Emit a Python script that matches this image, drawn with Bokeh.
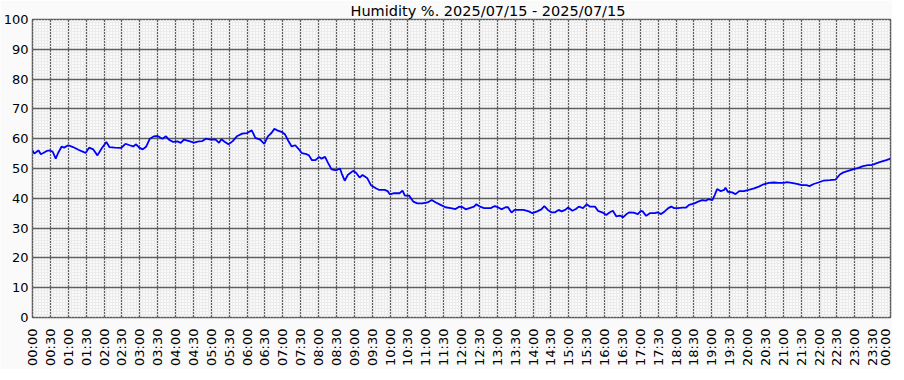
import math
from bokeh.plotting import figure
from bokeh.models import FixedTicker, Title
from bokeh.embed import file_html
from bokeh.resources import INLINE

# ---- data (minutes after midnight, humidity %) ----
hum_minutes = [
    0, 3, 7, 10, 14, 18, 24, 29, 34, 39, 43, 49, 53, 60, 68, 77, 85, 89, 95, 102,
    109, 116, 124, 129, 138, 149, 156, 163, 169, 174, 179, 185, 191, 197, 204, 210,
    218, 224, 229, 236, 243, 249, 254, 263, 271, 279, 285, 291, 299, 307, 313, 317,
    323, 329, 336, 343, 352, 360, 368, 374, 382, 389, 395, 401, 406, 413, 419, 424,
    429, 435, 441, 446, 452, 460, 464, 469, 475, 481, 485, 491, 496, 502, 510, 516,
    519, 524, 529, 538, 543, 549, 554, 562, 568, 577, 582, 591, 596, 600, 607, 616,
    621, 625, 632, 639, 646, 654, 663, 670, 677, 685, 693, 702, 710,
    716, 722, 727, 736, 741, 745, 751, 758, 769, 776, 782, 787, 794, 798, 804, 809,
    816, 824, 833, 839, 847, 854, 859, 865, 871, 877, 883, 888, 894, 899, 906, 912,
    917, 924, 930, 936, 944, 949, 956, 963, 969, 974, 980, 986, 991, 997, 1002, 1009,
    1016, 1021, 1024, 1030, 1036, 1044, 1049, 1055, 1061, 1067, 1072, 1077, 1083,
    1091, 1097, 1102, 1111, 1117, 1124, 1130, 1134, 1141, 1145, 1149, 1155, 1161,
    1163, 1167, 1174, 1180, 1186, 1194, 1202, 1211, 1219, 1227, 1236, 1244, 1252,
    1261, 1266, 1274, 1283, 1291, 1299, 1304, 1311, 1319, 1327, 1338, 1348, 1355,
    1361, 1369, 1377, 1386, 1394, 1402, 1408, 1416, 1423, 1433, 1440,
]
hum_values = [
    56.1, 55.0, 55.6, 56.1, 54.8, 55.2, 55.9, 56.1, 55.6, 53.3, 55.2, 57.4, 57.0, 57.8, 57.2, 56.3, 55.6, 55.2, 57.0, 56.4,
    54.4, 56.7, 58.9, 57.2, 57.0, 56.9, 58.3, 57.8, 57.4, 58.1, 57.0, 56.4, 57.4, 60.0, 60.8, 60.9,
    60.0, 60.8, 59.7, 58.9, 59.1, 58.6, 59.7, 59.2, 58.7, 59.1, 59.2, 60.0, 59.7, 59.8, 58.6, 59.8,
    58.9, 58.1, 59.2, 60.8, 61.7, 61.9, 62.8, 60.3, 59.7, 58.3, 60.8, 61.9, 63.3, 62.6, 62.2, 61.4,
    59.4, 57.4, 57.8, 56.7, 55.2, 54.8, 54.4, 52.8, 52.8, 53.9, 53.3, 53.9, 51.9, 49.7, 49.4, 50.0,
    48.3, 45.9, 47.8, 49.2, 48.6, 47.0, 47.8, 46.7, 44.4, 43.3, 42.8, 42.8, 42.4, 41.3, 41.7, 41.7,
    42.6, 40.9, 40.9, 38.9, 38.3, 38.3, 38.6, 39.4, 38.6, 37.8, 37.0, 36.7, 36.4,
    37.2, 37.0, 36.3, 36.9, 37.2, 38.0, 37.2, 36.7, 36.7, 37.4, 36.9, 36.3, 37.0, 37.0, 35.2, 36.1,
    36.1, 36.1, 35.6, 35.0, 35.6, 36.3, 37.4, 36.1, 35.3, 35.3, 36.1, 35.6, 36.1, 36.9, 35.8, 36.4,
    37.2, 36.7, 38.0, 37.2, 37.2, 35.8, 35.3, 34.4, 35.3, 35.8, 33.9, 34.2, 33.6, 34.7, 35.3, 35.2,
    34.7, 35.8, 35.6, 34.1, 35.0, 35.0, 35.3, 34.7, 35.6, 36.7, 37.2, 36.7, 36.7,
    36.9, 36.9, 37.8, 38.3, 38.9, 39.4, 39.2, 39.7, 39.4, 41.1, 43.1, 42.4,
    42.8, 43.6, 42.2, 42.0, 41.4, 42.4, 42.4, 42.8, 43.3, 43.9, 44.7, 45.2, 45.3,
    45.2, 45.2, 45.4, 45.2, 44.8, 44.4, 44.4, 44.1, 44.8, 45.3, 45.9, 46.1, 46.3, 48.0,
    48.7, 49.2, 49.7, 50.2, 50.8, 51.1, 51.1, 51.7, 52.2, 52.8, 53.3,
]

x_ticks = list(range(0, 1441, 30))
x_tick_labels = [
    "00:00", "00:30", "01:00", "01:30", "02:00", "02:30", "03:00", "03:30",
    "04:00", "04:30", "05:00", "05:30", "06:00", "06:30", "07:00", "07:30",
    "08:00", "08:30", "09:00", "09:30", "10:00", "10:30", "11:00", "11:30",
    "12:00", "12:30", "13:00", "13:30", "14:00", "14:30", "15:00", "15:30",
    "16:00", "16:30", "17:00", "17:30", "18:00", "18:30", "19:00", "19:30",
    "20:00", "20:30", "21:00", "21:30", "22:00", "22:30", "23:00", "23:30", "00:00",
]
y_ticks = list(range(0, 101, 10))
title_text = "Humidity %. 2025/07/15 - 2025/07/15"

FONT = "DejaVu Sans"

p = figure(frame_width=858, frame_height=298, output_backend="svg", toolbar_location=None,
           x_range=(0, 1440), y_range=(0, 100),
           min_border_left=28, min_border_right=2, min_border_top=14,
           min_border_bottom=52)
p.title = Title(text=title_text, align="left", offset=318, text_font=FONT,
                text_font_size="14.5px", text_font_style="normal",
                text_color="#000000", standoff=1)

p.background_fill_color = "#fafafa"
p.border_fill_color = "#fafafa"
p.outline_line_color = "#5a5a5a"
p.outline_line_width = 1.5

p.xaxis.ticker = FixedTicker(ticks=x_ticks, minor_ticks=list(range(0, 1441, 5)))
p.yaxis.ticker = FixedTicker(ticks=y_ticks, minor_ticks=list(range(0, 101, 1)))
p.xaxis.major_label_overrides = {t: l for t, l in zip(x_ticks, x_tick_labels)}
p.xaxis.major_label_orientation = math.pi / 2

for ax in (p.xaxis, p.yaxis):
    ax.axis_line_color = None
    ax.major_tick_line_color = None
    ax.minor_tick_line_color = None
    ax.major_tick_in = 0
    ax.major_tick_out = 0
    ax.minor_tick_in = 0
    ax.minor_tick_out = 0
    ax.major_label_text_font = FONT
    ax.major_label_text_font_size = "13px"
    ax.major_label_text_color = "#000000"
p.yaxis.major_label_standoff = 4
p.xaxis.major_label_standoff = 11

for g in (p.xgrid, p.ygrid):
    g.grid_line_color = "#5f5f5f"
    g.grid_line_width = 1.3
    g.minor_grid_line_color = "#ebebeb"
    g.minor_grid_line_width = 1

p.line(hum_minutes, hum_values, line_color="#0000ff", line_width=1.8)

open("out.html", "w").write(file_html(p, INLINE))
